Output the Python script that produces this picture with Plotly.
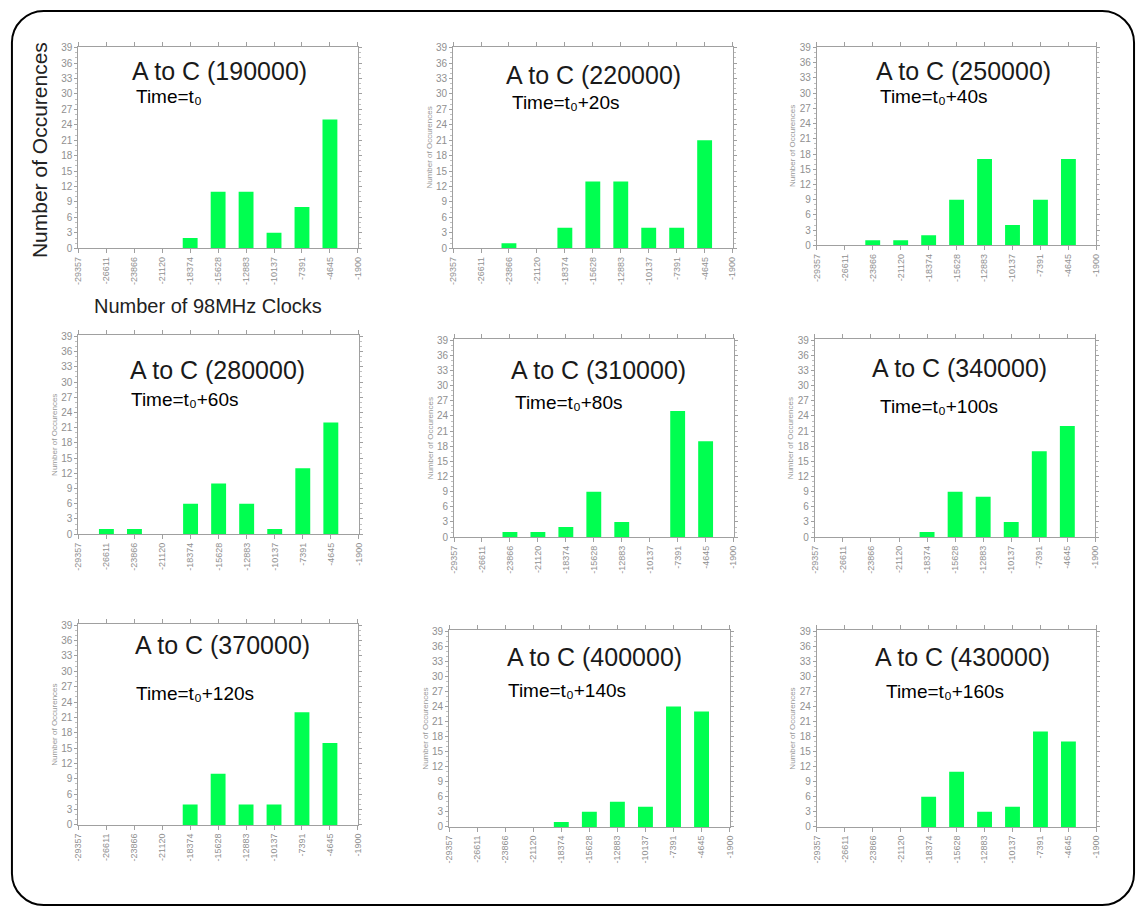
import plotly.graph_objects as go

W, H = 1143, 916

bin_labels = ["-29357", "-26611", "-23866", "-21120", "-18374", "-15628",
              "-12883", "-10137", "-7391", "-4645", "-1900"]
bin_centers = [-29357, -26611, -23866, -21120, -18374, -15628,
               -12883, -10137, -7391, -4645]
y_ticks = [0, 3, 6, 9, 12, 15, 18, 21, 24, 27, 30, 33, 36, 39]

titles = ["A to C (190000)", "A to C (220000)", "A to C (250000)",
          "A to C (280000)", "A to C (310000)", "A to C (340000)",
          "A to C (370000)", "A to C (400000)", "A to C (430000)"]
times = ["Time=t\u2080", "Time=t\u2080+20s", "Time=t\u2080+40s",
         "Time=t\u2080+60s", "Time=t\u2080+80s", "Time=t\u2080+100s",
         "Time=t\u2080+120s", "Time=t\u2080+140s", "Time=t\u2080+160s"]

counts_190000 = [0, 0, 0, 0, 2, 11, 11, 3, 8, 25]
counts_220000 = [0, 0, 1, 0, 4, 13, 13, 4, 4, 21]
counts_250000 = [0, 0, 1, 1, 2, 9, 17, 4, 9, 17]
counts_280000 = [0, 1, 1, 0, 6, 10, 6, 1, 13, 22]
counts_310000 = [0, 0, 1, 1, 2, 9, 3, 0, 25, 19]
counts_340000 = [0, 0, 0, 0, 1, 9, 8, 3, 17, 22]
counts_370000 = [0, 0, 0, 0, 4, 10, 4, 4, 22, 16]
counts_400000 = [0, 0, 0, 0, 1, 3, 5, 4, 24, 23]
counts_430000 = [0, 0, 0, 0, 6, 11, 3, 4, 19, 17]
all_counts = [counts_190000, counts_220000, counts_250000,
              counts_280000, counts_310000, counts_340000,
              counts_370000, counts_400000, counts_430000]

# panel frames in pixels: (left, right, top, bottom)
frames = [(74, 356, 43, 247), (452, 734, 43, 247), (819, 1101, 43, 244),
          (74, 357, 335, 536), (453, 735, 339, 539), (817, 1100, 339, 539),
          (74, 356, 627, 830), (448, 731, 633, 832), (819, 1101, 633, 832)]
title_pos = [(216, 68), (594, 72), (967, 68), (214, 370), (599, 370), (963, 368),
             (219, 648), (595, 660), (966, 660)]
time_pos = [(130, 94), (509, 100), (881, 94), (125, 400), (512, 403), (881, 407),
            (130, 697), (505, 694), (887, 695)]

def px(x):
    return x / W

def py(y):
    return 1 - y / H

GREEN = "#00ff50"
GREY = "#a0a0a0"
LBL = "#909090"

fig = go.Figure()
layout = dict(width=W, height=H, margin=dict(l=0, r=0, t=0, b=0),
              paper_bgcolor="white", plot_bgcolor="white", showlegend=False,
              font=dict(family="Arial, Liberation Sans, sans-serif"))
annotations = []

for i in range(9):
    sfx = "" if i == 0 else str(i + 1)
    l, r, t, b = frames[i]
    fig.add_trace(go.Bar(x=bin_centers, y=all_counts[i], width=1460,
                         marker=dict(color=GREEN, line=dict(width=0)),
                         xaxis="x" + sfx, yaxis="y" + sfx))
    layout["xaxis" + sfx] = dict(
        domain=[px(l), px(r)], anchor="y" + sfx, range=[-29357, -1900],
        tickmode="array", tickvals=[-29357, -26611, -23866, -21120, -18374, -15628,
                                    -12883, -10137, -7391, -4645, -1900],
        ticktext=bin_labels, tickangle=-90, ticks="outside", ticklen=4,
        tickcolor=GREY, tickfont=dict(size=9, color=LBL),
        showline=True, linecolor=GREY, linewidth=1, mirror="allticks",
        showgrid=False, zeroline=False, fixedrange=True)
    layout["yaxis" + sfx] = dict(
        domain=[py(b), py(t)], anchor="x" + sfx, range=[0, 39.2],
        tickmode="array", tickvals=y_ticks, ticks="outside", ticklen=3,
        tickcolor=GREY, tickfont=dict(size=10, color=LBL),
        minor=dict(ticks="outside", dtick=1, ticklen=2, tickcolor="#c0c0c0"),
        showline=True, linecolor=GREY, linewidth=1, mirror="allticks",
        showgrid=False, zeroline=False, fixedrange=True,
        title=dict(text="" if i == 0 else "Number of Occurences",
                   font=dict(size=8, color="#999999"), standoff=2))
    tx, ty = title_pos[i]
    annotations.append(dict(x=px(tx), y=py(ty), xref="paper", yref="paper",
                            text=titles[i], showarrow=False, xanchor="center",
                            yanchor="middle", font=dict(size=25, color="#1a1a1a")))
    mx, my = time_pos[i]
    annotations.append(dict(x=px(mx), y=py(my), xref="paper", yref="paper",
                            text=times[i], showarrow=False, xanchor="left",
                            yanchor="middle", font=dict(size=19, color="black")))

annotations.append(dict(x=px(35), y=py(148), xref="paper", yref="paper",
                        text="Number of Occurences", textangle=-90, showarrow=False,
                        xanchor="center", yanchor="middle",
                        font=dict(size=21, color="#222222")))
annotations.append(dict(x=px(205), y=py(305), xref="paper", yref="paper",
                        text="Number of 98MHz Clocks", showarrow=False,
                        xanchor="center", yanchor="middle",
                        font=dict(size=20, color="#222222")))
layout["annotations"] = annotations

# rounded outer border
x0, x1, y0, y1, rad = 7, 1139, 7, 911, 32
k = 0.5523 * rad
def P(x, y):
    return f"{px(x):.5f},{py(y):.5f}"
path = (f"M {P(x0 + rad, y0)} L {P(x1 - rad, y0)} "
        f"C {P(x1 - rad + k, y0)} {P(x1, y0 + rad - k)} {P(x1, y0 + rad)} "
        f"L {P(x1, y1 - rad)} "
        f"C {P(x1, y1 - rad + k)} {P(x1 - rad + k, y1)} {P(x1 - rad, y1)} "
        f"L {P(x0 + rad, y1)} "
        f"C {P(x0 + rad - k, y1)} {P(x0, y1 - rad + k)} {P(x0, y1 - rad)} "
        f"L {P(x0, y0 + rad)} "
        f"C {P(x0, y0 + rad - k)} {P(x0 + rad - k, y0)} {P(x0 + rad, y0)} Z")
layout["shapes"] = [dict(type="path", xref="paper", yref="paper", path=path,
                         line=dict(color="black", width=2))]

fig.update_layout(**layout)
fig.write_html("out.html")
